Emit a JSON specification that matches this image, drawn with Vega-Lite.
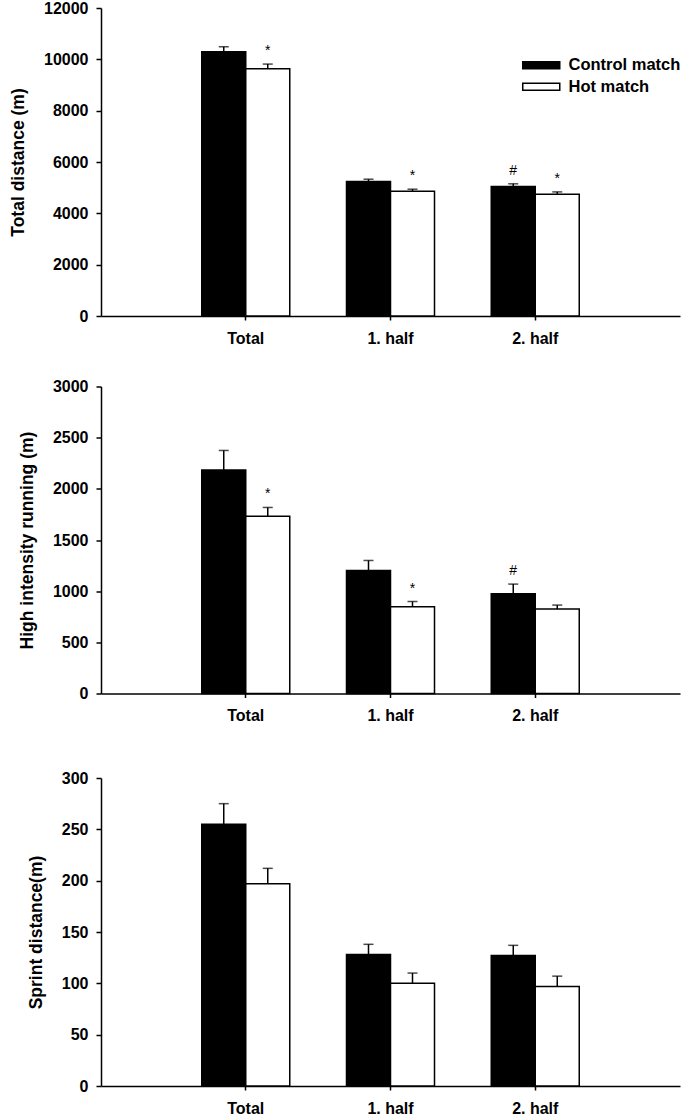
{
  "$schema": "https://vega.github.io/schema/vega-lite/v6.json",
  "background": "white",
  "padding": {"left": 9, "top": 0, "right": 0, "bottom": 0},
  "autosize": {"type": "pad"},
  "spacing": 32.5,
  "resolve": {"scale": {"fill": "independent"}},
  "config": {
    "view": {"stroke": null},
    "font": "Liberation Sans",
    "axis": {
      "domainColor": "black", "domainWidth": 1.5,
      "tickColor": "black", "tickWidth": 1.5,
      "labelColor": "black", "labelFont": "Liberation Sans", "labelFontWeight": "bold", "labelFontSize": 16,
      "titleColor": "black", "titleFont": "Liberation Sans", "titleFontWeight": "bold", "titleFontSize": 17.5,
      "grid": false
    },
    "axisX": {"tickSize": 4, "labelPadding": 10, "labelAngle": 0},
    "axisY": {"tickSize": 5, "labelPadding": 8, "titlePadding": 16}
  },
  "vconcat": [
    {
      "width": 579, "height": 308,
      "data": {"values": [
        {"period": "Total", "group": "Control match", "mean": 10300, "upper": 10490, "sig": ""},
        {"period": "Total", "group": "Hot match", "mean": 9630, "upper": 9815, "sig": "*"},
        {"period": "1. half", "group": "Control match", "mean": 5240, "upper": 5330, "sig": ""},
        {"period": "1. half", "group": "Hot match", "mean": 4865, "upper": 4940, "sig": "*"},
        {"period": "2. half", "group": "Control match", "mean": 5045, "upper": 5150, "sig": "#"},
        {"period": "2. half", "group": "Hot match", "mean": 4745, "upper": 4835, "sig": "*"}
      ]},
      "encoding": {
        "x": {"field": "period", "type": "nominal", "sort": ["Total", "1. half", "2. half"], "scale": {"paddingInner": 0.392, "paddingOuter": 0.696}, "axis": {"title": null}},
        "xOffset": {"field": "group", "type": "nominal", "sort": ["Control match", "Hot match"], "scale": {"paddingInner": 0, "paddingOuter": 0}}
      },
      "layer": [
        {"mark": {"type": "bar", "stroke": "black", "strokeWidth": 1.5},
         "encoding": {
           "y": {"field": "mean", "type": "quantitative", "scale": {"domain": [0, 12000], "nice": false}, "axis": {"title": "Total distance (m)", "values": [0, 2000, 4000, 6000, 8000, 10000, 12000], "format": "d"}},
           "fill": {"field": "group", "type": "nominal", "scale": {"domain": ["Control match", "Hot match"], "range": ["black", "white"]},
             "legend": {"title": null, "orient": "none", "legendX": 432, "legendY": 49, "padding": 0,
               "symbolType": "M-4,-0.75L4,-0.75L4,0.75L-4,0.75Z", "symbolSize": 85.6, "symbolStrokeColor": "black", "symbolStrokeWidth": 1.5,
               "labelOffset": 19, "rowPadding": 4.5, "labelFont": "Liberation Sans", "labelFontWeight": "bold", "labelFontSize": 16.5, "labelColor": "black", "labelLimit": 300}}
         }},
        {"mark": {"type": "rule", "strokeWidth": 1.5, "color": "black"},
         "encoding": {"y": {"field": "mean", "type": "quantitative"}, "y2": {"field": "upper"}}},
        {"mark": {"type": "tick", "size": 10, "thickness": 1.5, "color": "black"},
         "encoding": {"y": {"field": "upper", "type": "quantitative"}}},
        {"mark": {"type": "text", "dy": -9, "fontSize": 14, "baseline": "alphabetic", "color": "black"},
         "encoding": {"y": {"field": "upper", "type": "quantitative"}, "text": {"field": "sig"}}}
      ]
    },
    {
      "width": 579, "height": 307,
      "data": {"values": [
        {"period": "Total", "group": "Control match", "mean": 2185, "upper": 2375, "sig": ""},
        {"period": "Total", "group": "Hot match", "mean": 1733, "upper": 1818, "sig": "*"},
        {"period": "1. half", "group": "Control match", "mean": 1202, "upper": 1300, "sig": ""},
        {"period": "1. half", "group": "Hot match", "mean": 847, "upper": 899, "sig": "*"},
        {"period": "2. half", "group": "Control match", "mean": 974, "upper": 1069, "sig": "#"},
        {"period": "2. half", "group": "Hot match", "mean": 825, "upper": 864, "sig": ""}
      ]},
      "encoding": {
        "x": {"field": "period", "type": "nominal", "sort": ["Total", "1. half", "2. half"], "scale": {"paddingInner": 0.392, "paddingOuter": 0.696}, "axis": {"title": null}},
        "xOffset": {"field": "group", "type": "nominal", "sort": ["Control match", "Hot match"], "scale": {"paddingInner": 0, "paddingOuter": 0}}
      },
      "layer": [
        {"mark": {"type": "bar", "stroke": "black", "strokeWidth": 1.5},
         "encoding": {
           "y": {"field": "mean", "type": "quantitative", "scale": {"domain": [0, 3000], "nice": false}, "axis": {"title": "High intensity running (m)", "values": [0, 500, 1000, 1500, 2000, 2500, 3000], "format": "d"}},
           "fill": {"field": "group", "type": "nominal", "scale": {"domain": ["Control match", "Hot match"], "range": ["black", "white"]}, "legend": null}
         }},
        {"mark": {"type": "rule", "strokeWidth": 1.5, "color": "black"},
         "encoding": {"y": {"field": "mean", "type": "quantitative"}, "y2": {"field": "upper"}}},
        {"mark": {"type": "tick", "size": 10, "thickness": 1.5, "color": "black"},
         "encoding": {"y": {"field": "upper", "type": "quantitative"}}},
        {"mark": {"type": "text", "dy": -9, "fontSize": 14, "baseline": "alphabetic", "color": "black"},
         "encoding": {"y": {"field": "upper", "type": "quantitative"}, "text": {"field": "sig"}}}
      ]
    },
    {
      "width": 579, "height": 308,
      "title": {"text": " ", "fontSize": 13, "offset": 1},
      "data": {"values": [
        {"period": "Total", "group": "Control match", "mean": 255, "upper": 275},
        {"period": "Total", "group": "Hot match", "mean": 197, "upper": 212},
        {"period": "1. half", "group": "Control match", "mean": 128, "upper": 138},
        {"period": "1. half", "group": "Hot match", "mean": 100, "upper": 110},
        {"period": "2. half", "group": "Control match", "mean": 127, "upper": 137},
        {"period": "2. half", "group": "Hot match", "mean": 97, "upper": 107}
      ]},
      "encoding": {
        "x": {"field": "period", "type": "nominal", "sort": ["Total", "1. half", "2. half"], "scale": {"paddingInner": 0.392, "paddingOuter": 0.696}, "axis": {"title": null}},
        "xOffset": {"field": "group", "type": "nominal", "sort": ["Control match", "Hot match"], "scale": {"paddingInner": 0, "paddingOuter": 0}}
      },
      "layer": [
        {"mark": {"type": "bar", "stroke": "black", "strokeWidth": 1.5},
         "encoding": {
           "y": {"field": "mean", "type": "quantitative", "scale": {"domain": [0, 300], "nice": false}, "axis": {"title": "Sprint distance(m)", "values": [0, 50, 100, 150, 200, 250, 300], "format": "d"}},
           "fill": {"field": "group", "type": "nominal", "scale": {"domain": ["Control match", "Hot match"], "range": ["black", "white"]}, "legend": null}
         }},
        {"mark": {"type": "rule", "strokeWidth": 1.5, "color": "black"},
         "encoding": {"y": {"field": "mean", "type": "quantitative"}, "y2": {"field": "upper"}}},
        {"mark": {"type": "tick", "size": 10, "thickness": 1.5, "color": "black"},
         "encoding": {"y": {"field": "upper", "type": "quantitative"}}}
      ]
    }
  ]
}
